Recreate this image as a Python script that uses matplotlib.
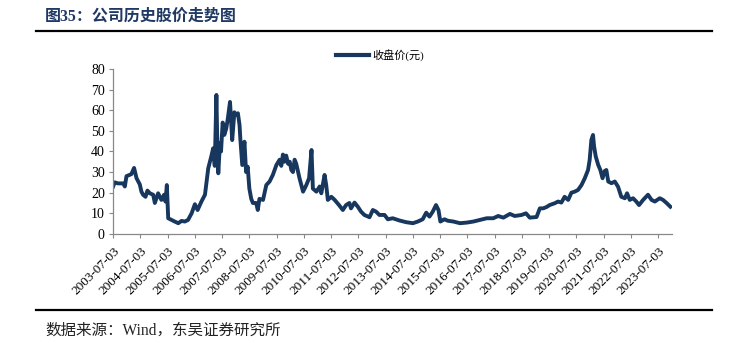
from datetime import datetime, timedelta

import matplotlib
matplotlib.use('Agg')
from matplotlib import pyplot as plt
from matplotlib.lines import Line2D

# 收盘价，按图片读出（小数年份, 元）
years = [2003.50, 2003.56, 2003.68, 2003.87, 2003.93, 2003.99, 2004.17, 2004.27,
         2004.36, 2004.48, 2004.54, 2004.60, 2004.69, 2004.76, 2004.85, 2004.97,
         2005.03, 2005.15, 2005.27, 2005.37, 2005.42, 2005.47, 2005.52, 2005.64,
         2005.76, 2005.89, 2006.01, 2006.13, 2006.25, 2006.38, 2006.50, 2006.60,
         2006.74, 2006.87, 2006.99, 2007.11, 2007.17, 2007.23, 2007.29, 2007.33,
         2007.36, 2007.42, 2007.46, 2007.52, 2007.58, 2007.65, 2007.71, 2007.79,
         2007.87, 2007.95, 2008.01, 2008.08, 2008.14, 2008.17, 2008.24, 2008.32,
         2008.38, 2008.44, 2008.50, 2008.57, 2008.63, 2008.75, 2008.81, 2008.87,
         2009.00, 2009.12, 2009.24, 2009.36, 2009.49, 2009.61, 2009.67, 2009.73,
         2009.79, 2009.85, 2009.92, 2009.98, 2010.04, 2010.10, 2010.16, 2010.22,
         2010.34, 2010.47, 2010.59, 2010.69, 2010.78,
         2010.83, 2010.96, 2011.08, 2011.14, 2011.26, 2011.32, 2011.38, 2011.51,
         2011.63, 2011.79, 2011.93, 2012.05, 2012.17, 2012.23, 2012.36, 2012.48,
         2012.60, 2012.72, 2012.91, 2013.03, 2013.15, 2013.27, 2013.46, 2013.58,
         2013.76, 2014.01, 2014.25, 2014.50, 2014.68, 2014.86, 2014.99, 2015.11,
         2015.23, 2015.35, 2015.44, 2015.51, 2015.66, 2015.78, 2015.99, 2016.23,
         2016.48, 2016.72, 2016.96, 2017.21, 2017.45, 2017.63, 2017.82, 2018.06,
         2018.24, 2018.49, 2018.65, 2018.79, 2019.04, 2019.16, 2019.28, 2019.40,
         2019.52, 2019.71, 2019.83, 2019.95, 2020.07, 2020.20, 2020.32, 2020.44,
         2020.56, 2020.69, 2020.81, 2020.93, 2020.99, 2021.05, 2021.11, 2021.15,
         2021.21, 2021.30, 2021.38, 2021.46, 2021.54, 2021.60, 2021.67, 2021.79,
         2021.91, 2022.03, 2022.15, 2022.28, 2022.36, 2022.46, 2022.58, 2022.70,
         2022.80, 2022.95, 2023.13, 2023.26, 2023.38, 2023.56, 2023.68, 2023.81,
         2023.95]
close = [23, 25, 24.5, 24.5, 23, 28, 29, 32,
         27, 24, 20.5, 19, 18, 21, 19.7, 19,
         15, 19.7, 16.5, 19, 15.7, 23.7, 7.6, 6.8,
         6, 5.2, 6.3, 6, 6.8, 10, 14.4, 11.6,
         15.7, 19, 31.8, 38, 41.5, 33, 67.4, 40,
         29.4, 44, 40, 54, 48, 51, 56, 64,
         45.5, 59, 57.7, 58.5, 52.8, 46, 33.4, 44.7,
         30, 32.6, 22, 17, 15, 15, 11.6, 17,
         16.5, 23.7, 25.4, 28.6, 33.4, 36, 33, 38.5,
         35, 38, 34, 35, 31, 30, 36, 34,
         27, 20.5, 23.7, 27, 40.7,
         22, 20.5, 23, 19.7, 28.6, 23.7, 16.5, 18,
         16.5, 14, 11.6, 14, 15, 12.4, 15.2, 13.2,
         10.8, 9.2, 8.1, 11.6, 10.8, 9.2, 9.2, 7.1,
         7.6, 6.5, 5.7, 5.2, 6, 7.1, 10.3, 8.4,
         10.8, 14, 11.6, 6, 7.1, 6.4, 6, 5.2,
         5.5, 6, 6.8, 7.6, 7.6, 8.7, 7.9, 9.7,
         8.7, 9.2, 10, 7.9, 8.2, 12.4, 12.4, 13,
         14, 14.9, 15.7, 15.2, 18, 16.5, 20, 20.5,
         21.3, 23.7, 27, 31, 35.9, 45.6, 48, 42.4,
         37.6, 33.5, 31, 27, 30.5, 31, 25.4, 24.6,
         25.4, 22.9, 18, 17.3, 19.7, 16.5, 17.3, 15.7,
         14, 16.5, 19, 16.5, 15.7, 17.3, 16.5, 15,
         13.2]

tick_years = list(range(2003, 2024))


def to_date(y):
    base = datetime(int(y), 1, 1)
    return base + timedelta(days=(y - int(y)) * 365.25)


dates = [to_date(y) for y in years]
tick_dates = [datetime(y, 7, 3) for y in tick_years]
tick_labels = [d.strftime('%Y-%m-%d') for d in tick_dates]

serif = ['Liberation Serif', 'Noto Sans CJK SC']
navy = '#17375e'

fig = plt.figure(figsize=(7.3, 3.43), dpi=100)
ax = fig.add_axes([0.155, 0.318, 0.7655, 0.481])

ax.plot(dates, close, color=navy, linewidth=2.8, solid_joinstyle='round')

ax.set_ylim(0, 80)
ax.set_yticks(range(0, 81, 10))
ax.set_xlim(tick_dates[0], to_date(2024.01))
ax.set_xticks(tick_dates)
ax.set_xticklabels(tick_labels, rotation=45, ha='right', rotation_mode='anchor')

for lab in ax.get_xticklabels():
    lab.set_family('Liberation Serif')
    lab.set_fontsize(9.5)
for lab in ax.get_yticklabels():
    lab.set_family('Liberation Serif')
    lab.set_fontsize(10)

for s in ['top', 'right']:
    ax.spines[s].set_visible(False)
for s in ['left', 'bottom']:
    ax.spines[s].set_color('#888888')
    ax.spines[s].set_linewidth(0.9)
ax.tick_params(axis='both', direction='out', length=3, color='#888888', width=0.8, pad=3)
ax.tick_params(axis='x', pad=5)

# 图例
h = Line2D([], [], color=navy, linewidth=3)
fig.legend([h], ['收盘价(元)'], loc='center', bbox_to_anchor=(380 / 730, 1 - 55 / 343),
           frameon=False, handlelength=2.9, handletextpad=0.3,
           prop={'family': serif, 'size': 8})

# 标题与横线
fig.text(45 / 730, 1 - 17 / 343, '图35：公司历史股价走势图', family=serif, fontsize=11.5,
         fontweight='bold', color='#1f3864', va='center', ha='left')
fig.add_artist(Line2D([36 / 730, 712 / 730], [1 - 31 / 343, 1 - 31 / 343], color='black', linewidth=1.6))
fig.add_artist(Line2D([36 / 730, 712 / 730], [1 - 310 / 343, 1 - 310 / 343], color='black', linewidth=1.6))

fig.text(45 / 730, 1 - 331 / 343, '数据来源：Wind，东吴证券研究所', family=serif, fontsize=11.2,
         color='#222222', va='center', ha='left')

fig.savefig('out.png', dpi=100)
